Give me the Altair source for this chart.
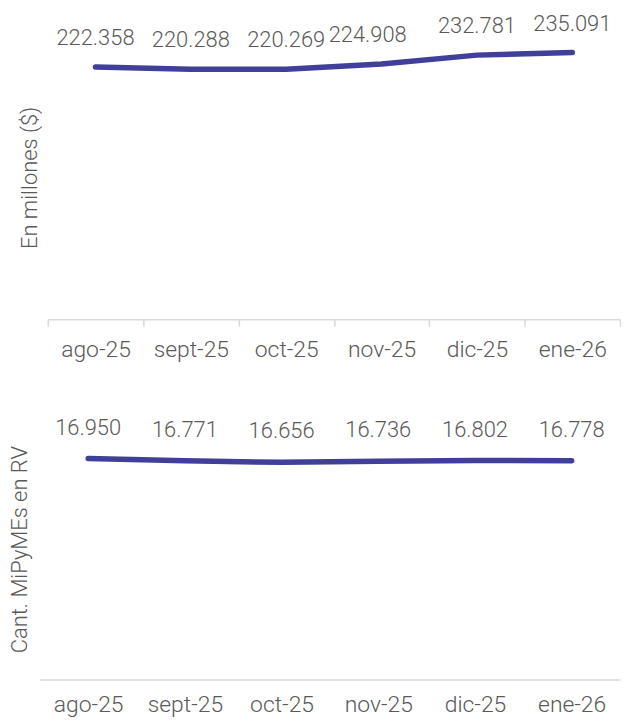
import altair as alt
import pandas as pd

months = ["ago-25", "sept-25", "oct-25", "nov-25", "dic-25", "ene-26"]
monto = [222358, 220288, 220269, 224908, 232781, 235091]
cantidad = [16950, 16771, 16656, 16736, 16802, 16778]


def fmt(v):
    return f"{v:,}".replace(",", ".")


df1 = pd.DataFrame({"mes": months, "valor": monto, "etiqueta": [fmt(v) for v in monto]})
df2 = pd.DataFrame({"mes": months, "valor": cantidad, "etiqueta": [fmt(v) for v in cantidad]})

LINE = "#40409A"
GREY = "#595959"
AXIS = "#D9D9D9"
FONT = "Roboto"


def panel(df, title, ymax, height, width, xrange, ticks, title_x, label_pad, dy, shift_nov=0):
    x_axis = alt.Axis(
        title=None, labelAngle=0, labelFont=FONT, labelFontSize=23, labelFontWeight=300,
        labelColor=GREY, labelPadding=label_pad, grid=False,
        domainColor=AXIS, domainWidth=1.5, ticks=ticks,
        tickColor=AXIS, tickWidth=1.5, tickSize=7 if ticks else 0,
        tickBand="extent",
    )
    x = alt.X("mes:N", sort=months, title=None, bandPosition=0.5,
              scale=alt.Scale(type="band", range=xrange, paddingInner=0, paddingOuter=0),
              axis=x_axis)
    y = alt.Y("valor:Q", scale=alt.Scale(domain=[0, ymax], nice=False, zero=True),
              axis=alt.Axis(title=title, labels=False, ticks=False, domain=False, grid=False,
                            titleFont=FONT, titleFontSize=22, titleFontWeight=300,
                            titleColor=GREY, titleAngle=270, titleX=title_x,
                            titleY=height / 2, titleAlign="center", titleBaseline="middle"))
    base = alt.Chart(df).encode(x=x, y=y)
    line = base.mark_line(color=LINE, strokeWidth=5.5, strokeCap="round", strokeJoin="round")
    txt_kw = dict(baseline="alphabetic", align="center", dy=dy, font=FONT,
                  fontSize=22, fontWeight=300, color=GREY)
    if shift_nov:
        t1 = base.mark_text(**txt_kw).encode(text="etiqueta:N").transform_filter(
            "datum.mes != 'nov-25'")
        t2 = base.mark_text(dx=shift_nov, **txt_kw).encode(text="etiqueta:N").transform_filter(
            "datum.mes == 'nov-25'")
        layers = [line, t1, t2]
    else:
        layers = [line, base.mark_text(**txt_kw).encode(text="etiqueta:N")]
    return alt.layer(*layers).properties(width=width, height=height)


top = panel(df1, "En millones ($)", 250000, 285, 583, [8, 583], True, -10, 12, -22, shift_nov=-14)
bottom = panel(df2, "Cant. MiPyMEs en RV", 20000, 262, 583, [0, 583], False, -20, 14, -24)

chart = alt.vconcat(top, bottom, spacing=55).properties(
    padding={"left": 0, "top": 2, "right": 0, "bottom": 0}
).configure_view(stroke=None)

chart.save("out.html", embed_options={"renderer": "svg", "actions": False})
